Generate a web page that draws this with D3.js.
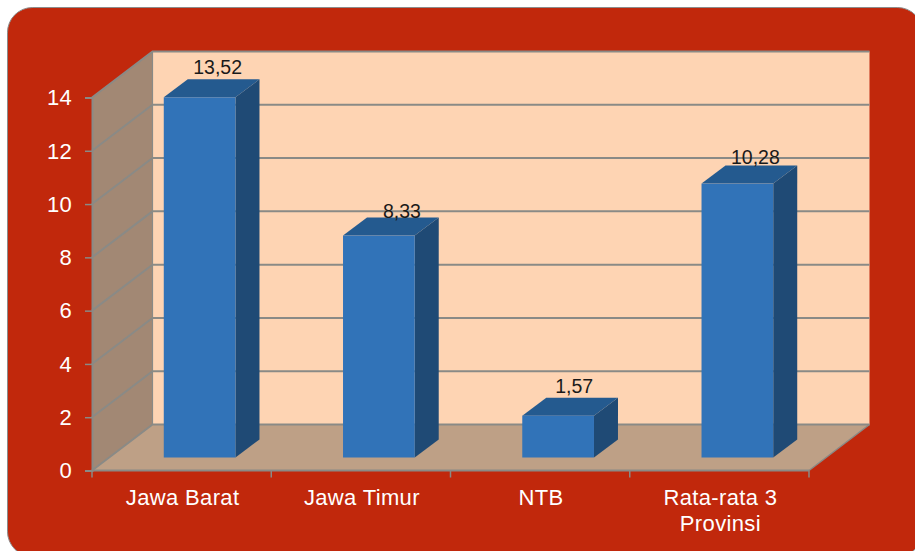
<!DOCTYPE html>
<html lang="id">
<head>
    <meta charset="UTF-8">
    <title>Chart</title>
    <script src="https://d3js.org/d3.v7.min.js"></script>
    <style>
        html, body { margin: 0; padding: 0; background: #fff; overflow: hidden; }
        svg { display: block; }
        text { font-family: "Liberation Sans", Arial, sans-serif; }
    </style>
</head>
<body>
    <svg id="chart" width="915" height="551"></svg>
    <script>
        const categories = ["Jawa Barat", "Jawa Timur", "NTB", "Rata-rata 3 Provinsi"];
        const values = [13.52, 8.33, 1.57, 10.28];
        const yTicks = [0, 2, 4, 6, 8, 10, 12, 14];

        const svg = d3.select("#chart");

        // front edge of the floor and the shift to the back wall
        const x0 = 92, x1 = 809, yBase = 470.5, yTop = 97.5;
        const depthX = 60.5, depthY = -46;
        // bars stand a bit behind the front edge and have their own depth
        const barX = 18, barY = -13, barDx = 24, barDy = -18;
        // hand placed value labels, same as in the original
        const labelNudge = [[1, 1], [6, 6], [-1, 1], [1, 4]];

        const x = d3.scaleBand().domain(categories).range([x0, x1]).paddingInner(0.6).paddingOuter(0.3);
        const xAxisBand = d3.scaleBand().domain(categories).range([x0, x1]);
        const y = d3.scaleLinear().domain([0, 14]).range([yBase, yTop]);
        const fmt = d3.formatLocale({ decimal: ",", thousands: ".", grouping: [3], currency: ["", ""] }).format(".2f");
        const poly = pts => "M" + pts.map(p => p.join(",")).join("L") + "Z";

        // panel
        svg.append("rect")
            .attr("x", 7.5).attr("y", 7.5)
            .attr("width", 915).attr("height", 549)
            .attr("rx", 25).attr("ry", 25)
            .attr("fill", "#C1280C")
            .attr("stroke", "#8c8c8c").attr("stroke-width", 1);

        const yb = y(0), yt = y(14);

        // back wall
        svg.append("path")
            .attr("d", poly([[x0 + depthX, yt + depthY], [x1 + depthX, yt + depthY], [x1 + depthX, yb + depthY], [x0 + depthX, yb + depthY]]))
            .attr("fill", "#FED4B3");
        // side wall
        svg.append("path")
            .attr("d", poly([[x0, yb], [x0, yt], [x0 + depthX, yt + depthY], [x0 + depthX, yb + depthY]]))
            .attr("fill", "#A28874");
        // floor
        svg.append("path")
            .attr("d", poly([[x0, yb], [x0 + depthX, yb + depthY], [x1 + depthX, yb + depthY], [x1, yb]]))
            .attr("fill", "#BEA086");

        // gridlines
        svg.append("g").selectAll("path")
            .data(yTicks)
            .join("path")
            .attr("d", d => `M${x0},${y(d)}L${x0 + depthX},${y(d) + depthY}L${x1 + depthX},${y(d) + depthY}`)
            .attr("fill", "none")
            .attr("stroke", "#8a8a86")
            .attr("stroke-width", 2);

        // wall edges
        svg.append("path")
            .attr("d", `M${x0 + depthX},${yt + depthY}V${yb + depthY}`)
            .attr("stroke", "#8a8a86").attr("stroke-width", 1.2).attr("fill", "none");
        svg.append("path")
            .attr("d", `M${x1 + depthX},${yb + depthY}L${x1},${yb}`)
            .attr("stroke", "#8a8a86").attr("stroke-width", 1.5).attr("fill", "none");

        // axes
        const yAxis = d3.axisLeft(y).tickValues(yTicks).tickSize(7).tickPadding(13);
        const gy = svg.append("g").attr("transform", `translate(${x0},0)`).call(yAxis);
        gy.selectAll("line").attr("stroke", "#8a8a86").attr("stroke-width", 1.5);
        gy.select(".domain").attr("stroke", "#8a8a86").attr("stroke-width", 2);
        gy.selectAll("text")
            .attr("fill", "#fff")
            .attr("font-size", 22)
            .attr("letter-spacing", 0.3)
            .attr("dy", "0.33em")
            .attr("font-family", "Liberation Sans");

        const gx = svg.append("g");
        gx.append("path")
            .attr("d", `M${x0},${yb}H${x1}`)
            .attr("stroke", "#8a8a86").attr("stroke-width", 2);
        gx.selectAll("line")
            .data(categories.map(c => xAxisBand(c)).concat([x1]))
            .join("line")
            .attr("x1", d => d).attr("x2", d => d)
            .attr("y1", yb).attr("y2", yb + 7)
            .attr("stroke", "#8a8a86").attr("stroke-width", 1.5);

        // category labels, the long one wraps at its last space
        const catLabels = svg.append("g").selectAll("text")
            .data(categories)
            .join("text")
            .attr("text-anchor", "middle")
            .attr("fill", "#fff")
            .attr("font-size", 22)
            .attr("letter-spacing", 0.35);
        catLabels.each(function (d) {
            const cut = d.lastIndexOf(" ");
            const lines = d.length > 12 ? [d.slice(0, cut), d.slice(cut + 1)] : [d];
            d3.select(this).selectAll("tspan")
                .data(lines)
                .join("tspan")
                .attr("x", xAxisBand(d) + xAxisBand.bandwidth() / 2 + 1)
                .attr("y", (l, i) => 505 + i * 25.5)
                .text(l => l);
        });

        // bars
        const bars = svg.append("g").selectAll("g")
            .data(categories.map((c, i) => ({ c, v: values[i], nudge: labelNudge[i] })))
            .join("g");

        const bx = d => x(d.c) + barX;
        const bb = yb + barY;
        const bh = d => y(0) - y(d.v);
        const bw = x.bandwidth();

        bars.append("path")
            .attr("d", d => poly([[bx(d) + bw, bb], [bx(d) + bw, bb - bh(d)], [bx(d) + bw + barDx, bb - bh(d) + barDy], [bx(d) + bw + barDx, bb + barDy]]))
            .attr("fill", "#1F4A75");
        bars.append("path")
            .attr("d", d => poly([[bx(d), bb - bh(d)], [bx(d) + barDx, bb - bh(d) + barDy], [bx(d) + bw + barDx, bb - bh(d) + barDy], [bx(d) + bw, bb - bh(d)]]))
            .attr("fill", "#245A8F");
        bars.append("rect")
            .attr("x", bx)
            .attr("y", d => bb - bh(d))
            .attr("width", bw)
            .attr("height", bh)
            .attr("fill", "#3173B8");

        bars.append("text")
            .attr("x", d => bx(d) + bw / 2 + 17 + d.nudge[0])
            .attr("y", d => bb - bh(d) + barDy - 6 + d.nudge[1])
            .attr("text-anchor", "middle")
            .attr("fill", "#1a1a1a")
            .attr("font-size", 19.5)
            .text(d => fmt(d.v));
    </script>
</body>
</html>
